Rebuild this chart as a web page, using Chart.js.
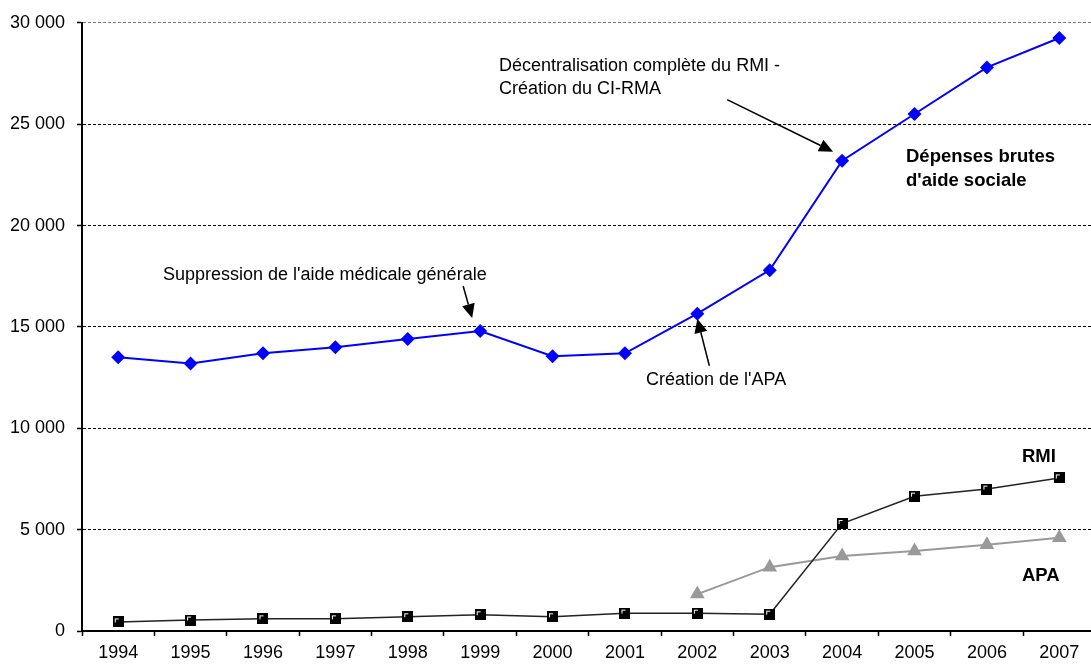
<!DOCTYPE html>
<html>
<head>
<meta charset="utf-8">
<script src="https://cdn.jsdelivr.net/npm/chart.js@4/dist/chart.umd.min.js"></script>
<style>
  html, body { margin: 0; padding: 0; background: #fff; overflow: hidden; }
  #wrap { width: 1104px; height: 668px; }
</style>
</head>
<body>
<div id="wrap"><canvas id="graph" width="1104" height="668"></canvas></div>
<script>
// années et séries (millions d'euros)
const annees = ["1994", "1995", "1996", "1997", "1998", "1999", "2000", "2001", "2002", "2003", "2004", "2005", "2006", "2007"];
const depensesBrutes = [13500, 13200, 13700, 14000, 14400, 14800, 13550, 13700, 15650, 17800, 23200, 25500, 27800, 29250];
const rmi = [450, 540, 600, 600, 700, 800, 700, 880, 880, 830, 5300, 6650, 7000, 7550];
const apa = [null, null, null, null, null, null, null, null, 1820, 3150, 3700, 3950, 4250, 4600];
const graduationsY = [0, 5000, 10000, 15000, 20000, 25000, 30000];

const police = "'Liberation Sans', Arial, sans-serif";

// marqueur carré noir avec reflet blanc en haut à gauche
function marqueurCarre() {
    const c = document.createElement("canvas");
    c.width = 11; c.height = 11;
    const g = c.getContext("2d");
    g.fillStyle = "#000";
    g.fillRect(0, 0, 11, 11);
    g.fillStyle = "#fff";
    g.fillRect(2, 2, 1, 4);
    g.fillRect(2, 2, 4, 1);
    return c;
}

function milliers(v) {
    return String(v).replace(/\B(?=(\d{3})+(?!\d))/g, " ");
}

function fleche(ctx, x1, y1, x2, y2) {
    const ang = Math.atan2(y2 - y1, x2 - x1);
    const L = 14, W = 6.5;
    ctx.save();
    ctx.strokeStyle = "#000"; ctx.fillStyle = "#000"; ctx.lineWidth = 1.5;
    ctx.beginPath();
    ctx.moveTo(x1, y1);
    ctx.lineTo(x2 - Math.cos(ang) * L, y2 - Math.sin(ang) * L);
    ctx.stroke();
    ctx.beginPath();
    ctx.moveTo(x2, y2);
    ctx.lineTo(x2 - Math.cos(ang) * L - Math.sin(ang) * W, y2 - Math.sin(ang) * L + Math.cos(ang) * W);
    ctx.lineTo(x2 - Math.cos(ang) * L + Math.sin(ang) * W, y2 - Math.sin(ang) * L - Math.cos(ang) * W);
    ctx.closePath();
    ctx.fill();
    ctx.restore();
}

// textes et flèches d'annotation, placés par rapport aux points
const annotations = {
    id: "annotations",
    afterDatasetsDraw(chart) {
        const { ctx, scales: { x, y } } = chart;
        const pt = (i, v) => [x.getPixelForValue(i), y.getPixelForValue(v)];
        ctx.save();
        ctx.fillStyle = "#000";
        ctx.textBaseline = "middle";
        ctx.textAlign = "left";
        ctx.font = "18px " + police;

        const [x99, y99] = pt(5, depensesBrutes[5]);
        ctx.fillText("Suppression de l'aide médicale générale", 163, 275);
        fleche(ctx, x99 - 17, y99 - 45, x99 - 8, y99 - 13);

        const [x02, y02] = pt(8, depensesBrutes[8]);
        ctx.fillText("Création de l'APA", 646, 380);
        fleche(ctx, x02 + 12, y02 + 52, x02, y02 + 5);

        const [x04, y04] = pt(10, depensesBrutes[10]);
        ctx.fillText("Décentralisation complète du RMI -", 499, 66);
        ctx.fillText("Création du CI-RMA", 499, 89);
        fleche(ctx, x04 - 115, y04 - 61, x04 - 9, y04 - 9);

        ctx.font = "bold 18.5px " + police;
        ctx.fillText("Dépenses brutes", 906, 157);
        ctx.fillText("d'aide sociale", 906, 181);
        ctx.fillText("RMI", 1022, 457);
        ctx.fillText("APA", 1022, 576);
        ctx.restore();
    }
};

new Chart(document.getElementById("graph"), {
    type: "line",
    data: {
        labels: annees,
        datasets: [
            { label: "Dépenses brutes d'aide sociale", data: depensesBrutes, borderColor: "#0000ff", backgroundColor: "#0000ff",
              borderWidth: 2, pointStyle: "rectRot", pointRadius: 7, pointBorderWidth: 0 },
            { label: "RMI", data: rmi, borderColor: "#222", backgroundColor: "#000",
              borderWidth: 1.5, pointStyle: marqueurCarre(), pointRadius: 5 },
            { label: "APA", data: apa, borderColor: "#999", backgroundColor: "#999",
              borderWidth: 2, pointStyle: "triangle", pointRadius: 8.5, pointBorderWidth: 0 }
        ]
    },
    options: {
        responsive: false,
        animation: false,
        layout: { padding: { top: 22, left: 0, right: 0, bottom: 0 } },
        plugins: { legend: { display: false }, tooltip: { enabled: false } },
        scales: {
            x: {
                offset: true,
                grid: { offset: true, drawOnChartArea: false, drawTicks: true, tickLength: 5, color: "#000", tickWidth: 1.5 },
                border: { color: "#000", width: 2 },
                ticks: { color: "#000", font: { family: police, size: 18 }, padding: 6, maxRotation: 0, autoSkip: false },
                afterFit(s) { s.height = 37; }
            },
            y: {
                min: 0, max: 30000,
                afterBuildTicks(s) { s.ticks = graduationsY.map(v => ({ value: v })); },
                grid: {
                    color: c => c.tick && c.tick.value === 30000 ? "#777" : "#000",
                    lineWidth: 1, tickLength: 5, tickColor: "#000", tickWidth: 1.5,
                    tickBorderDash: [], borderDash: [3, 2]
                },
                border: { color: "#000", width: 2, dash: [3, 2] },
                ticks: { color: "#000", font: { family: police, size: 18 }, padding: 12, callback: v => milliers(v) },
                afterFit(s) { s.width = 82; }
            }
        }
    },
    plugins: [annotations]
});
</script>
</body>
</html>
